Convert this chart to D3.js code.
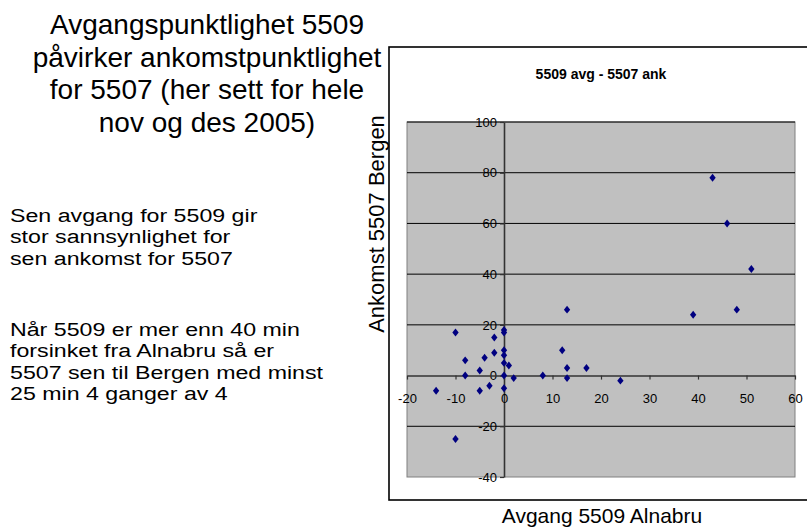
<!DOCTYPE html>
<html><head><meta charset="utf-8">
<script src="https://cdn.jsdelivr.net/npm/d3@7"></script>
<style>body{margin:0;background:#fff} svg{display:block}</style>
</head><body><svg id="c" width="807" height="528"></svg>
<script>
// ---- data ----
const departureDelay = [13, 39, 48, -10, 0, 0, -2, 12, 0, -2, 0, -8, -4, 0, 1, -5, 13, 17, -8, 0, 8, 2, 13, 24, -14, -5, -3, 0, -10, 43, 46, 51];
const arrivalDelay   = [26, 24, 26, 17, 18, 17, 15, 10, 10, 9, 8, 6, 7, 5, 4, 2, 3, 3, 0, 0, 0, -1, -1, -2, -6, -6, -4, -5, -25, 78, 60, 42];
const xTicks = [-20, -10, 0, 10, 20, 30, 40, 50, 60];
const yTicks = [-40, -20, 0, 20, 40, 60, 80, 100];
const chartTitle = "5509 avg - 5507 ank";
const xTitle = "Avgang 5509 Alnabru";
const yTitle = "Ankomst 5507 Bergen";
const headingLines = ["Avgangspunktlighet 5509", "påvirker ankomstpunktlighet", "for 5507 (her sett for hele", "nov og des 2005)"];
const para1 = ["Sen avgang for 5509 gir", "stor sannsynlighet for", "sen ankomst for 5507"];
const para2 = ["Når 5509 er mer enn 40 min", "forsinket fra Alnabru så er", "5507 sen til Bergen med minst", "25 min 4 ganger av 4"];

const points = departureDelay.map((d, i) => ({x: d, y: arrivalDelay[i]}));

const svg = d3.select("#c");
const FONT = "'Liberation Sans', Arial, sans-serif";
const NARROW = "'Liberation Sans Narrow', 'Arial Narrow', 'Liberation Sans', sans-serif";

// ---- left texts (one text element per block, lines as tspans) ----
const heading = svg.append("text").attr("font-family", FONT).attr("font-size", 28)
  .attr("text-anchor", "middle").attr("fill", "#000");
heading.selectAll("tspan").data(headingLines).join("tspan")
  .attr("x", 207).attr("y", (d, i) => 34 + i * 32.5).text(d => d);

const body = svg.append("g").attr("transform", "translate(10,0) scale(1.22,1)");
[[para1, 222], [para2, 336]].forEach(([lines, y0]) => {
  const t = body.append("text").attr("font-family", FONT).attr("font-size", 19).attr("fill", "#000");
  t.selectAll("tspan").data(lines).join("tspan")
    .attr("x", 0).attr("y", (d, i) => y0 + i * 21.3).text(d => d);
});

// ---- chart frame ----
svg.append("rect").attr("x", 389).attr("y", 47).attr("width", 430).attr("height", 453)
  .attr("fill", "#fff").attr("stroke", "#000").attr("stroke-width", 1.6);

const plot = {left: 407, right: 795, top: 122, bottom: 477};
const x = d3.scaleLinear().domain([-20, 60]).range([plot.left, plot.right]);
const y = d3.scaleLinear().domain([-40, 100]).range([plot.bottom, plot.top]);

svg.append("rect").attr("x", plot.left).attr("y", plot.top)
  .attr("width", plot.right - plot.left).attr("height", plot.bottom - plot.top)
  .attr("fill", "#c0c0c0").attr("stroke", "#808080").attr("stroke-width", 1);

// gridlines
svg.append("g").selectAll("line").data(yTicks.filter(t => t !== -40 && t !== 0)).join("line")
  .attr("x1", plot.left).attr("x2", plot.right)
  .attr("y1", d => y(d)).attr("y2", d => y(d))
  .attr("stroke", "#000").attr("stroke-width", 1);

// axes
const fmt = d => String(d);
const yAxis = svg.append("g").attr("transform", `translate(${x(0)},0)`)
  .call(d3.axisLeft(y).tickValues(yTicks).tickFormat(fmt).tickSize(4).tickSizeOuter(0).tickPadding(3));
const xAxis = svg.append("g").attr("transform", `translate(0,${y(0)})`)
  .call(d3.axisBottom(x).tickValues(xTicks).tickFormat(fmt).tickSize(4).tickSizeOuter(0).tickPadding(14));
[xAxis, yAxis].forEach(a => {
  a.select(".domain").attr("stroke", "#333").attr("stroke-width", 1.6);
  a.selectAll(".tick line").attr("stroke", "#333").attr("stroke-width", 1.2);
  a.selectAll(".tick text").attr("font-family", NARROW).attr("font-size", 13).attr("fill", "#000");
});

// points (small diamond markers)
const diamond = {
  draw(ctx, size) {
    const w = Math.sqrt(size) * 0.5, h = w * 1.25;
    ctx.moveTo(0, -h); ctx.lineTo(w, 0); ctx.lineTo(0, h); ctx.lineTo(-w, 0); ctx.closePath();
  }
};
svg.append("g").selectAll("path").data(points).join("path")
  .attr("transform", d => `translate(${x(d.x)},${y(d.y)})`)
  .attr("d", d3.symbol(diamond).size(40))
  .attr("fill", "#000080");

// titles
svg.append("text").attr("x", 601).attr("y", 79).attr("text-anchor", "middle")
  .attr("font-family", FONT).attr("font-weight", "bold").attr("font-size", 14).text(chartTitle);
svg.append("text").attr("x", 602).attr("y", 523).attr("text-anchor", "middle")
  .attr("font-family", FONT).attr("font-size", 21).text(xTitle);
svg.append("text").attr("transform", "translate(384,224) rotate(-90)").attr("text-anchor", "middle")
  .attr("font-family", FONT).attr("font-size", 22).text(yTitle);
</script></body></html>
